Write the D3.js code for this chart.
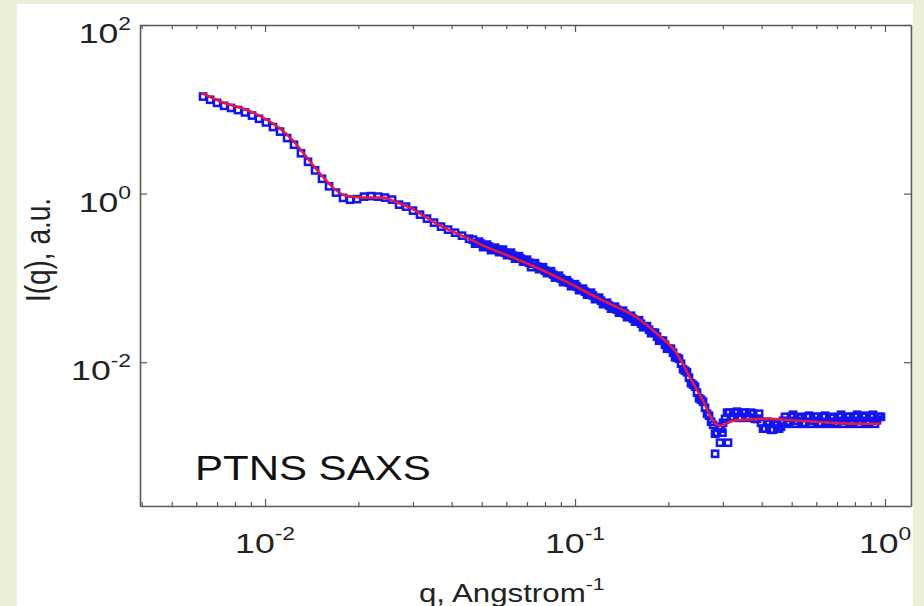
<!DOCTYPE html>
<html><head><meta charset="utf-8">
<script src="https://cdn.jsdelivr.net/npm/d3@7"></script>
<style>html,body{margin:0;padding:0;background:#eaf1d8;} svg{display:block;}</style>
</head><body>
<script>
// ---- measured data (blue squares) ----
const dataQ = [
 0.00631,0.00665,0.00700,0.00738,0.00777,0.00818,0.00862,0.00908,0.00956,0.01007,
 0.01061,0.01118,0.01178,0.01240,0.01306,0.01376,0.01450,0.01527,0.01609,0.01694,
 0.01785,0.01880,0.01981,0.02086,0.02198,0.02315,0.02438,0.02569,0.02706,0.02850,
 0.03002,0.03162,0.03331,0.03509,0.03696,0.03894,0.04102,0.04320,0.04551,
 0.04688,0.04829,0.04975,0.05125,0.05280,0.05439,0.05603,0.05772,0.05946,0.06125,
 0.06310,0.06500,0.06696,0.06898,0.07106,0.07320,0.07541,0.07768,0.08003,0.08244,
 0.08492,0.08748,0.09012,0.09284,0.09564,0.09852,0.1015,0.1046,0.1077,0.1110,
 0.1143,0.1178,0.1213,0.1250,0.1288,0.1326,0.1366,0.1408,0.1450,0.1494,
 0.1539,0.1585,0.1633,0.1682,0.1733,0.1785,0.1839,0.1894,0.1951,0.2010,
 0.2071,0.2133,0.2198,0.2264,0.2332,0.2403,0.2475,0.2550,0.2627,0.2706,
 0.2788,0.2872,0.2958,0.3048,0.3140,0.3234,0.3332,0.3432,0.3536,0.3643,
 0.3753,0.3866,0.3981,0.4102,0.4226,0.4353,0.4485,0.4620,0.4759,0.4903,
 0.5051,0.5203,0.5360,0.5522,0.5688,0.5860,0.6037,0.6219,0.6407,0.6600,
 0.6799,0.7004,0.7215,0.7430,0.7656,0.7887,0.8125,0.8370,0.8622,0.8882,
 0.9149,0.9424,0.9707,
 0.2830,0.2936,0.3116,0.2990
];
const dataI = [
 14.17,12.99,11.93,10.99,10.38,9.80,9.18,8.43,7.72,6.98,
 6.16,5.44,4.56,3.80,3.01,2.385,1.886,1.499,1.221,1.028,
 0.890,0.846,0.860,0.921,0.934,0.921,0.897,0.849,0.740,0.701,
 0.628,0.563,0.505,0.453,0.406,0.374,0.344,0.317,0.292,
 0.2845,0.255,0.255,0.2349,0.2349,0.2165,0.2165,0.2106,0.1994,0.194,
 0.1837,0.174,0.1692,0.1603,0.1518,0.1476,0.1360,0.1324,0.1219,0.1186,
 0.1093,0.1035,0.0980,0.0903,0.0878,0.0810,0.0787,0.0725,0.0687,0.0650,
 0.0616,0.0567,0.0537,0.0495,0.0469,0.0444,0.0420,0.0397,0.0376,0.0347,
 0.0328,0.0311,0.0286,0.0264,0.0243,0.0224,0.0201,0.0180,0.0161,0.01446,
 0.01297,0.01131,0.00960,0.00793,0.00655,0.00541,0.00435,0.00359,0.00288,0.00232,
 0.00181,0.001456,0.00163,0.00213,0.00252,0.00225,0.00259,0.00219,0.00252,0.00219,
 0.00245,0.00213,0.00191,0.00163,0.00186,0.00158,0.00181,0.00171,0.00225,0.00197,
 0.00238,0.00202,0.00219,0.00191,0.00232,0.00202,0.00225,0.00191,0.00232,0.00197,
 0.00219,0.00191,0.00238,0.00202,0.00225,0.00197,0.00238,0.00202,0.00232,0.00197,
 0.00238,0.00208,0.00225,
 0.00082,0.00111,0.00111,0.00146
];
// ---- additional dense readings (q > 0.047) ----
const denseQ = [
 0.04758,0.04901,0.05050,0.05202,0.05359,0.05521,0.05687,0.05859,0.06035,0.06217,
 0.06405,0.06598,0.06796,0.07001,0.07213,0.07430,0.07654,0.07885,0.08123,0.08368,
 0.08619,0.08879,0.09147,0.09423,0.09707,0.1000,0.1030,0.1062,0.1093,0.1127,
 0.1160,0.1196,0.1231,0.1269,0.1307,0.1346,0.1386,0.1429,0.1472,0.1516,
 0.1562,0.1609,0.1657,0.1707,0.1759,0.1812,0.1867,0.1922,0.1980,0.2040,
 0.2102,0.2165,0.2231,0.2298,0.2367,0.2439,0.2512,0.2588,0.2666,0.2747,
 0.2830,0.2915,0.3002,0.3094,0.3187,0.3282,0.3382,0.3483,0.3589,0.3698,
 0.3809,0.3924,0.4041,0.4164,0.4289,0.4418,0.4552,0.4689,0.4830,0.4977,
 0.5127,0.5281,0.5440,0.5605,0.5773,0.5948,0.6128,0.6312,0.6503,0.6699,
 0.6901,0.7109,0.7323,0.7541,0.7771,0.8005,0.8247,0.8496,0.8751,0.9015,
 0.9286,0.9565
];
const denseI = [
 0.255,0.2693,0.2317,0.2481,0.2135,0.2286,0.2021,0.2165,0.1862,0.1994,
 0.1692,0.1812,0.1559,0.1647,0.1341,0.1497,0.1270,0.1341,0.1139,0.1202,
 0.1007,0.1063,0.0891,0.0940,0.0798,0.0843,0.0716,0.0746,0.0633,0.0668,
 0.0560,0.0583,0.0488,0.0508,0.0432,0.0456,0.0387,0.0409,0.0342,0.0356,
 0.0303,0.0315,0.0260,0.0268,0.0221,0.0224,0.0180,0.0180,0.01446,0.01446,
 0.01146,0.01100,0.00826,0.00761,0.00563,0.00512,0.00374,0.00340,0.00245,0.00197,
 0.00142,0.00171,0.00191,0.00252,0.00219,0.00252,0.00219,0.00252,0.00225,0.00252,
 0.00213,0.00245,0.00163,0.00197,0.00158,0.00191,0.00163,0.00202,0.00186,0.00225,
 0.00186,0.00225,0.00186,0.00225,0.00186,0.00225,0.00186,0.00225,0.00186,0.00225,
 0.00186,0.00225,0.00186,0.00225,0.00186,0.00225,0.00186,0.00225,0.00186,0.00225,
 0.00186,0.00225
];
// ---- model fit (red line) ----
const fitQ = [
 0.0063,0.00732,0.00849,0.00985,0.01117,0.01231,0.01366,0.01504,0.01657,0.01811,
 0.0207,0.0240,0.02667,0.02937,0.03236,0.03668,0.04163,0.04688,0.0532,0.0586,
 0.0754,0.0964,0.1231,0.1585,0.1838,0.2133,0.2350,0.2588,0.2788,0.2937,
 0.3234,0.4163,0.532,0.680,0.875,0.9636
];
const fitI = [
 15.38,12.03,10.2,7.98,5.91,4.26,2.67,1.73,1.178,0.947,
 0.897,0.897,0.782,0.682,0.548,0.417,0.335,0.277,0.2224,0.194,
 0.132,0.0855,0.0537,0.0337,0.0218,0.01262,0.00655,0.00349,0.00202,0.00176,
 0.00202,0.00213,0.00202,0.00191,0.00186,0.00186
];
// ---- ticks and labels ----
const xMajorTicks = [0.01, 0.1, 1];
const xTickExp = ["-2", "-1", "0"];
const xMinorTicks = [0.004,0.005,0.006,0.007,0.008,0.009,0.02,0.03,0.04,0.05,0.06,0.07,0.08,0.09,0.2,0.3,0.4,0.5,0.6,0.7,0.8,0.9];
const yMajorTicks = [0.01, 1, 100];
const yTickExp = ["-2", "0", "2"];
const xTitle = "q, Angstrom";
const xTitleSup = "-1";
const yTitle = "I(q), a.u.";
const annotation = "PTNS SAXS";

const W = 924, H = 606;
const BG = "#eaf1d8", AX = "#585858", TXT = "#222";
const FONT = "'Liberation Sans', Arial, Helvetica, sans-serif";
const plot = {left: 140, right: 911, top: 25, bottom: 506};

const x = d3.scaleLog().domain([0.00395, 1.213]).range([plot.left, plot.right]);
const y = d3.scaleLog().domain([1.97e-4, 100]).range([plot.bottom, plot.top]);

const svg = d3.select("body").append("svg").attr("width", W).attr("height", H);
svg.append("rect").attr("width", W).attr("height", H).attr("fill", BG);
svg.append("rect").attr("x", 17).attr("y", 4).attr("width", 896).attr("height", 602).attr("fill", "#fff");

svg.append("defs").append("clipPath").attr("id", "clip").append("rect")
  .attr("x", plot.left).attr("y", plot.top)
  .attr("width", plot.right - plot.left).attr("height", plot.bottom - plot.top);

const gData = svg.append("g").attr("clip-path", "url(#clip)");
const pts = dataQ.map((q, i) => ({q, I: dataI[i]}))
  .concat(denseQ.map((q, i) => ({q, I: denseI[i]})));
const MS = 6.2;
gData.selectAll("rect.pt").data(pts).join("rect").attr("class", "pt")
  .attr("x", d => x(d.q) - MS / 2).attr("y", d => y(d.I) - MS / 2)
  .attr("width", MS).attr("height", MS)
  .attr("fill", "none").attr("stroke", "#1414f2").attr("stroke-width", 2.5);

const fit = fitQ.map((q, i) => ({q, I: fitI[i]}));
gData.append("path").datum(fit)
  .attr("d", d3.line().x(d => x(d.q)).y(d => y(d.I)).curve(d3.curveMonotoneX))
  .attr("fill", "none").attr("stroke", "#e11a45").attr("stroke-width", 2.6)
  .attr("stroke-linejoin", "round").attr("stroke-linecap", "round");

function styleAxis(g) {
  g.selectAll("path.domain").attr("stroke", AX).attr("stroke-width", 1.6);
  g.selectAll(".tick line").attr("stroke", AX).attr("stroke-width", 1.2);
  g.selectAll(".tick text").remove();
}
function noDomain(g) { g.select("path.domain").remove(); }

// bottom
svg.append("g").attr("transform", `translate(0,${plot.bottom})`)
  .call(d3.axisBottom(x).tickValues(xMajorTicks).tickSize(-7).tickSizeOuter(0).tickFormat(() => "")).call(styleAxis);
svg.append("g").attr("transform", `translate(0,${plot.bottom})`)
  .call(d3.axisBottom(x).tickValues(xMinorTicks).tickSize(-4).tickSizeOuter(0).tickFormat(() => "")).call(styleAxis).call(noDomain);
// top
svg.append("g").attr("transform", `translate(0,${plot.top})`)
  .call(d3.axisTop(x).tickValues(xMajorTicks).tickSize(-7).tickSizeOuter(0).tickFormat(() => "")).call(styleAxis);
svg.append("g").attr("transform", `translate(0,${plot.top})`)
  .call(d3.axisTop(x).tickValues(xMinorTicks).tickSize(-4).tickSizeOuter(0).tickFormat(() => "")).call(styleAxis).call(noDomain);
// left / right
svg.append("g").attr("transform", `translate(${plot.left},0)`)
  .call(d3.axisLeft(y).tickValues(yMajorTicks).tickSize(-7).tickSizeOuter(0).tickFormat(() => "")).call(styleAxis);
svg.append("g").attr("transform", `translate(${plot.right},0)`)
  .call(d3.axisRight(y).tickValues(yMajorTicks).tickSize(-7).tickSizeOuter(0).tickFormat(() => "")).call(styleAxis);

// tick labels (10^n)
const SX = 1.27;
xMajorTicks.forEach((v, i) => {
  const t = svg.append("g").attr("transform", `translate(${x(v)},553) scale(${SX},1)`)
    .append("text").attr("text-anchor", "middle").attr("font-family", FONT)
    .attr("font-size", 28).attr("fill", TXT);
  t.append("tspan").text("10");
  t.append("tspan").attr("font-size", 18).attr("dy", -13).text(xTickExp[i]);
});
yMajorTicks.forEach((v, i) => {
  const t = svg.append("g").attr("transform", `translate(131,${y(v) + 18}) scale(${SX},1)`)
    .append("text").attr("text-anchor", "end").attr("font-family", FONT)
    .attr("font-size", 28).attr("fill", TXT);
  t.append("tspan").text("10");
  t.append("tspan").attr("font-size", 18).attr("dy", -13).text(yTickExp[i]);
});

// axis titles
const xt = svg.append("g").attr("transform", `translate(419,602) scale(1.25,1)`)
  .append("text").attr("font-family", FONT).attr("font-size", 25).attr("fill", TXT);
xt.append("tspan").text(xTitle);
xt.append("tspan").attr("font-size", 17).attr("dy", -12).text(xTitleSup);

svg.append("g").attr("transform", `translate(50,250) scale(1.22,1) rotate(-90)`)
  .append("text").attr("text-anchor", "middle").attr("font-family", FONT)
  .attr("font-size", 28).attr("fill", TXT).text(yTitle);

// annotation
svg.append("g").attr("transform", `translate(195,480) scale(1.2,1)`)
  .append("text").attr("font-family", FONT).attr("font-size", 35).attr("fill", "#111").text(annotation);

// right page strip (covers overflow like the reference)
svg.append("rect").attr("x", 913).attr("y", 0).attr("width", W - 913).attr("height", H).attr("fill", BG);
</script>
</body></html>
